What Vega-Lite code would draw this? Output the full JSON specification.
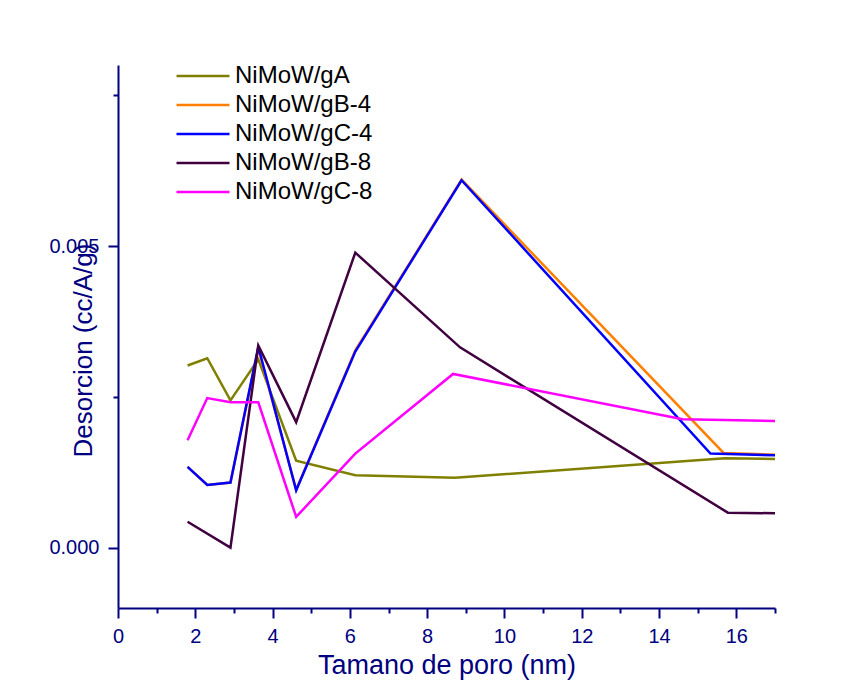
{
  "$schema": "https://vega.github.io/schema/vega-lite/v6.json",
  "autosize": {"type": "none"},
  "width": 657,
  "height": 543,
  "padding": {"left": 118, "top": 65, "right": 76, "bottom": 84},
  "background": "white",
  "config": {
    "view": {"stroke": null},
    "font": "Liberation Sans"
  },
  "data": {
    "values": [
      {"series": "NiMoW/gA", "x": 1.80, "y": 0.00302},
      {"series": "NiMoW/gA", "x": 2.31, "y": 0.00314},
      {"series": "NiMoW/gA", "x": 2.91, "y": 0.00244},
      {"series": "NiMoW/gA", "x": 3.63, "y": 0.00312},
      {"series": "NiMoW/gA", "x": 4.61, "y": 0.00144},
      {"series": "NiMoW/gA", "x": 6.14, "y": 0.00120},
      {"series": "NiMoW/gA", "x": 8.72, "y": 0.00116},
      {"series": "NiMoW/gA", "x": 15.70, "y": 0.00148},
      {"series": "NiMoW/gA", "x": 17.0, "y": 0.00147},

      {"series": "NiMoW/gB-4", "x": 1.80, "y": 0.00134},
      {"series": "NiMoW/gB-4", "x": 2.31, "y": 0.00104},
      {"series": "NiMoW/gB-4", "x": 2.91, "y": 0.00108},
      {"series": "NiMoW/gB-4", "x": 3.63, "y": 0.00330},
      {"series": "NiMoW/gB-4", "x": 4.61, "y": 0.00096},
      {"series": "NiMoW/gB-4", "x": 6.14, "y": 0.00327},
      {"series": "NiMoW/gB-4", "x": 8.89, "y": 0.00610},
      {"series": "NiMoW/gB-4", "x": 15.67, "y": 0.00157},
      {"series": "NiMoW/gB-4", "x": 17.0, "y": 0.00154},

      {"series": "NiMoW/gC-4", "x": 1.80, "y": 0.00134},
      {"series": "NiMoW/gC-4", "x": 2.31, "y": 0.00104},
      {"series": "NiMoW/gC-4", "x": 2.91, "y": 0.00108},
      {"series": "NiMoW/gC-4", "x": 3.63, "y": 0.00333},
      {"series": "NiMoW/gC-4", "x": 4.61, "y": 0.00095},
      {"series": "NiMoW/gC-4", "x": 6.14, "y": 0.00325},
      {"series": "NiMoW/gC-4", "x": 8.89, "y": 0.00609},
      {"series": "NiMoW/gC-4", "x": 15.33, "y": 0.00156},
      {"series": "NiMoW/gC-4", "x": 17.0, "y": 0.00153},

      {"series": "NiMoW/gB-8", "x": 1.80, "y": 0.00043},
      {"series": "NiMoW/gB-8", "x": 2.91, "y": 0.00000},
      {"series": "NiMoW/gB-8", "x": 3.63, "y": 0.00335},
      {"series": "NiMoW/gB-8", "x": 4.61, "y": 0.00208},
      {"series": "NiMoW/gB-8", "x": 6.14, "y": 0.00489},
      {"series": "NiMoW/gB-8", "x": 8.85, "y": 0.00332},
      {"series": "NiMoW/gB-8", "x": 15.78, "y": 0.00058},
      {"series": "NiMoW/gB-8", "x": 17.0, "y": 0.00057},

      {"series": "NiMoW/gC-8", "x": 1.80, "y": 0.00178},
      {"series": "NiMoW/gC-8", "x": 2.31, "y": 0.00248},
      {"series": "NiMoW/gC-8", "x": 2.91, "y": 0.00241},
      {"series": "NiMoW/gC-8", "x": 3.63, "y": 0.00241},
      {"series": "NiMoW/gC-8", "x": 4.61, "y": 0.00051},
      {"series": "NiMoW/gC-8", "x": 6.14, "y": 0.00156},
      {"series": "NiMoW/gC-8", "x": 8.67, "y": 0.00288},
      {"series": "NiMoW/gC-8", "x": 14.61, "y": 0.00213},
      {"series": "NiMoW/gC-8", "x": 17.0, "y": 0.00210}
    ]
  },
  "mark": {"type": "line", "strokeWidth": 2.5, "clip": true},
  "encoding": {
    "x": {
      "field": "x",
      "type": "quantitative",
      "scale": {"domain": [0, 17], "nice": false, "zero": false},
      "axis": {
        "title": "Tamano de poro (nm)",
        "values": [0,1,2,3,4,5,6,7,8,9,10,11,12,13,14,15,16,17],
        "labelExpr": "datum.value % 2 === 0 ? datum.label : ''",
        "grid": false,
        "domainColor": "#000080",
        "domainWidth": 2,
        "tickColor": "#000080",
        "tickWidth": 2,
        "tickSize": {"condition": {"test": "datum.value % 2 === 0", "value": 10}, "value": 5},
        "labelColor": "#000080",
        "labelFontSize": 20,
        "labelFont": "Liberation Sans",
        "labelPadding": 8,
        "labelFlush": false,
        "titleColor": "#000080",
        "titleFontSize": 27,
        "titleFont": "Liberation Sans",
        "titleFontWeight": "normal",
        "titlePadding": 6
      }
    },
    "y": {
      "field": "y",
      "type": "quantitative",
      "scale": {"domain": [-0.001, 0.008], "nice": false, "zero": false},
      "axis": {
        "title": "Desorcion (cc/A/g)",
        "values": [0, 0.0025, 0.005, 0.0075],
        "labelExpr": "datum.value === 0 || datum.value === 0.005 ? format(datum.value, '.3f') : ''",
        "grid": false,
        "domainColor": "#000080",
        "domainWidth": 2,
        "tickColor": "#000080",
        "tickWidth": 2,
        "tickSize": {"condition": {"test": "datum.value === 0 || datum.value === 0.005", "value": 10}, "value": 5},
        "labelColor": "#000080",
        "labelFontSize": 20,
        "labelFont": "Liberation Sans",
        "labelPadding": 9,
        "labelFlush": false,
        "titleColor": "#000080",
        "titleFontSize": 26,
        "titleFont": "Liberation Sans",
        "titleFontWeight": "normal",
        "titleX": -22,
        "titleY": 285
      }
    },
    "color": {
      "field": "series",
      "type": "nominal",
      "scale": {
        "domain": ["NiMoW/gA", "NiMoW/gB-4", "NiMoW/gC-4", "NiMoW/gB-8", "NiMoW/gC-8"],
        "range": ["#808000", "#FF8000", "#0000FF", "#400040", "#FF00FF"]
      },
      "legend": {
        "title": null,
        "orient": "none",
        "legendX": 73,
        "legendY": -1,
        "symbolType": "M-5.3,0H5.3",
        "symbolSize": 100,
        "symbolStrokeWidth": 2.5,
        "rowPadding": 5,
        "labelFontSize": 24,
        "labelFont": "Liberation Sans",
        "labelColor": "black",
        "labelOffset": 20,
        "padding": 0
      }
    },
    "order": {"field": "x"}
  }
}
